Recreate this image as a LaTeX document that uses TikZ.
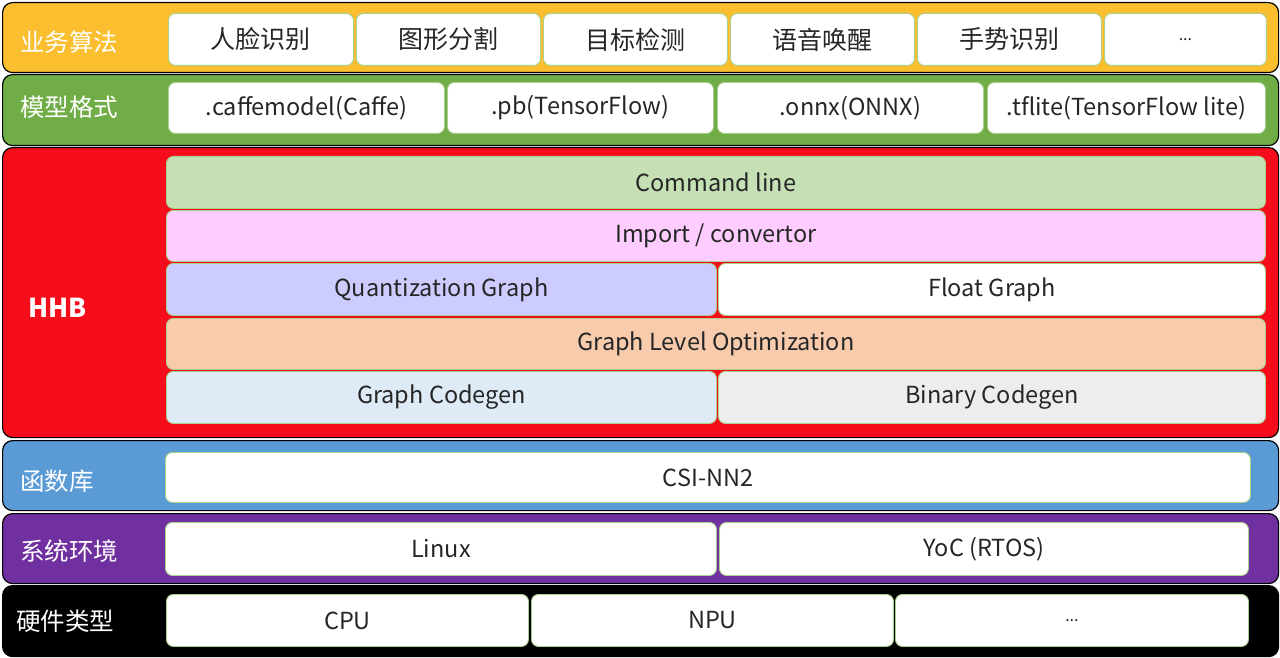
\documentclass[tikz,border=0pt]{standalone}
\usepackage{fontspec}
\setmainfont{Noto Sans CJK SC}
\usepackage{xcolor}
\usetikzlibrary{positioning}

\definecolor{appyellow}{RGB}{250,190,46}
\definecolor{fmtgreen}{RGB}{112,173,71}
\definecolor{hhbred}{RGB}{246,13,28}
\definecolor{libblue}{RGB}{91,155,213}
\definecolor{ospurple}{RGB}{112,48,160}
\definecolor{cellline}{RGB}{169,209,142}
\definecolor{cmdfill}{RGB}{197,224,180}
\definecolor{importfill}{RGB}{255,204,255}
\definecolor{quantfill}{RGB}{204,204,255}
\definecolor{glofill}{RGB}{248,203,173}
\definecolor{gcodefill}{RGB}{222,235,247}
\definecolor{bcodefill}{RGB}{237,237,237}

\begin{document}
\begin{tikzpicture}[x=1pt, y=-1pt,
    band/.style={draw=black, line width=1.2pt, rounded corners=10pt, anchor=north west, inner sep=0pt},
    cell/.style={draw=cellline, line width=0.9pt, rounded corners=7pt, fill=white, anchor=north west,
                 inner sep=0pt, text=black!85, font=\fontsize{23.5}{28}\selectfont},
    cjkcell/.style={cell, font=\fontsize{25}{30}\selectfont},
    tag/.style={anchor=west, text=white, inner sep=0pt, font=\fontsize{24.5}{29}\selectfont}]
    \useasboundingbox (0,0) rectangle (1280,658);

    % 业务算法
    \node[band, fill=appyellow, minimum width=1276pt, minimum height=70pt] (app) at (2,2) {};
    \node[tag] (apptag) at (20,42) {业务算法};
    \node[cjkcell, minimum width=185pt, minimum height=52pt] (face) at (168,13) {人脸识别};
    \node[cjkcell, minimum width=184pt, minimum height=52pt] (seg) at (356,13) {图形分割};
    \node[cjkcell, minimum width=184pt, minimum height=52pt] (det) at (543,13) {目标检测};
    \node[cjkcell, minimum width=184pt, minimum height=52pt] (wake) at (730,13) {语音唤醒};
    \node[cjkcell, minimum width=184pt, minimum height=52pt] (gesture) at (917,13) {手势识别};
    \node[cell, minimum width=162pt, minimum height=52pt] (appmore) at (1104,13) {\fontsize{16}{20}\selectfont ...};

    % 模型格式
    \node[band, fill=fmtgreen, minimum width=1276pt, minimum height=71pt] (fmt) at (2,74) {};
    \node[tag] (fmttag) at (20,107) {模型格式};
    \node[cell, minimum width=276pt, minimum height=51pt] (caffe) at (168,82) {.caffemodel(Caffe)};
    \node[cell, minimum width=266pt, minimum height=51pt] (pb) at (447,82) {.pb(TensorFlow)};
    \node[cell, minimum width=266pt, minimum height=51pt] (onnx) at (717,82) {.onnx(ONNX)};
    \node[cell, minimum width=278pt, minimum height=51pt] (tflite) at (987,82) {.tflite(TensorFlow lite)};

    % HHB
    \node[band, fill=hhbred, minimum width=1276pt, minimum height=290pt] (hhb) at (2,147) {};
    \node[tag, font=\fontsize{26}{30}\selectfont\bfseries] (hhbtag) at (28,308) {HHB};
    \node[cell, fill=cmdfill, minimum width=1099pt, minimum height=52pt] (cmd) at (166,156) {Command line};
    \node[cell, fill=importfill, minimum width=1099pt, minimum height=51pt] (import) at (166,210) {Import / convertor};
    \node[cell, fill=quantfill, minimum width=550pt, minimum height=52pt] (quant) at (166,263) {Quantization Graph};
    \node[cell, minimum width=547pt, minimum height=52pt] (float) at (718,263) {Float Graph};
    \node[cell, fill=glofill, minimum width=1099pt, minimum height=51pt] (glo) at (166,318) {Graph Level Optimization};
    \node[cell, fill=gcodefill, minimum width=550pt, minimum height=52pt] (gcode) at (166,371) {Graph Codegen};
    \node[cell, fill=bcodefill, minimum width=547pt, minimum height=52pt] (bcode) at (718,371) {Binary Codegen};

    % 函数库
    \node[band, fill=libblue, minimum width=1276pt, minimum height=70pt] (lib) at (2,440) {};
    \node[tag] (libtag) at (20,481) {函数库};
    \node[cell, minimum width=1085pt, minimum height=50pt] (csinn) at (165,452) {CSI-NN2};

    % 系统环境
    \node[band, fill=ospurple, minimum width=1276pt, minimum height=70pt] (os) at (2,513) {};
    \node[tag] (ostag) at (20,551) {系统环境};
    \node[cell, minimum width=551pt, minimum height=53pt] (linux) at (165,522) {Linux};
    \node[cell, minimum width=529pt, minimum height=53pt] (yoc) at (719,522) {YoC (RTOS)};

    % 硬件类型
    \node[band, fill=black, minimum width=1276pt, minimum height=71pt] (hw) at (2,585) {};
    \node[tag] (hwtag) at (16,621) {硬件类型};
    \node[cell, minimum width=362pt, minimum height=52pt] (cpu) at (166,594) {CPU};
    \node[cell, minimum width=362pt, minimum height=52pt] (npu) at (531,594) {NPU};
    \node[cell, minimum width=353pt, minimum height=52pt] (hwmore) at (895,594) {\fontsize{16}{20}\selectfont ...};
\end{tikzpicture}
\end{document}
